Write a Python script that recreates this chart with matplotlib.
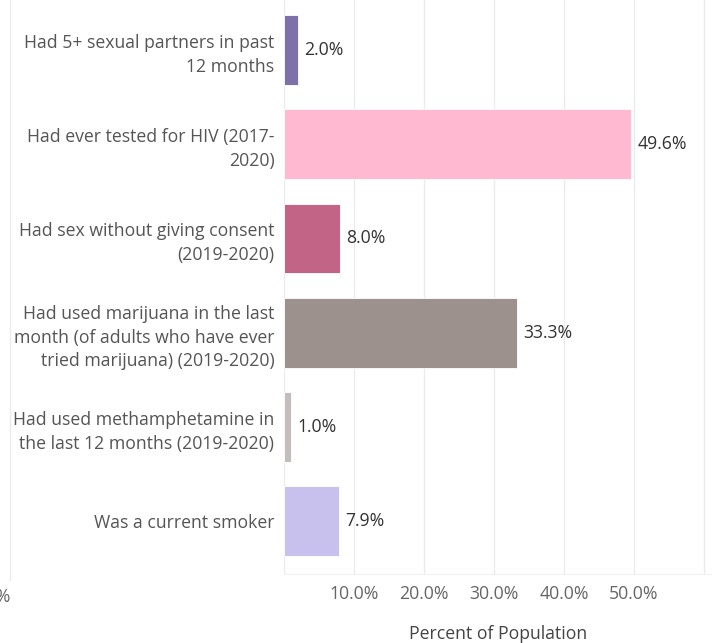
import matplotlib.pyplot as plt
from matplotlib.ticker import FuncFormatter

plt.rcParams['font.family'] = ['Open Sans', 'DejaVu Sans']

labels = [
    "Had 5+ sexual partners in past\n12 months",
    "Had ever tested for HIV (2017-\n2020)",
    "Had sex without giving consent\n(2019-2020)",
    "Had used marijuana in the last\nmonth (of adults who have ever\ntried marijuana) (2019-2020)",
    "Had used methamphetamine in\nthe last 12 months (2019-2020)",
    "Was a current smoker",
]
values = [2.0, 49.6, 8.0, 33.3, 1.0, 7.9]
colors = ["#7e71a9", "#ffbad1", "#c16485", "#9c918d", "#c5bdbb", "#c8c1ee"]

FS = 12.7
W, H = 712, 643
fig = plt.figure(figsize=(W / 100, H / 100), dpi=100)
ax = fig.add_axes([284 / W, (H - 575) / H, (W - 284) / W, 575 / H])

ypos = list(range(len(values)))
ax.barh(ypos, values, height=0.74, color=colors, edgecolor="white", linewidth=0.6, zorder=2)
for y, v in zip(ypos, values):
    ax.text(v + 0.9, y, f"{v:.1f}%", va="center", ha="left", fontsize=FS, color="#333333")

ax.set_xlim(0, (W - 284) / 7)
ax.set_ylim(5.57, -0.53)

# light vertical gridlines every 10%
for g in range(0, 70, 10):
    ax.axvline(g, color="#ebebeb", linewidth=1, zorder=0)
ax.axhline(5.57, color="#f0f0f0", linewidth=1.5, zorder=0)

ax.set_xticks([10, 20, 30, 40, 50])
ax.xaxis.set_major_formatter(FuncFormatter(lambda x, p: f"{x:.1f}%"))
ax.tick_params(axis="x", length=0, pad=7, labelsize=FS, labelcolor="#666666")
ax.set_yticks(ypos)
ax.set_yticklabels(labels, linespacing=1.4)
ax.tick_params(axis="y", length=0, pad=7, labelsize=FS, labelcolor="#555555")
for s in ax.spines.values():
    s.set_visible(False)

ax.set_xlabel("Percent of Population", fontsize=FS, color="#444444", labelpad=16)

# zero line and clipped label of the neighbouring pane
fig.add_artist(plt.Line2D([10 / W, 10 / W], [(H - 580) / H, 1], color="#ebebeb", linewidth=1))
fig.text(10 / W, (H - 597) / H, "0.0%", ha="right", va="center", fontsize=FS, color="#666666")

fig.savefig("out.png", dpi=100)
